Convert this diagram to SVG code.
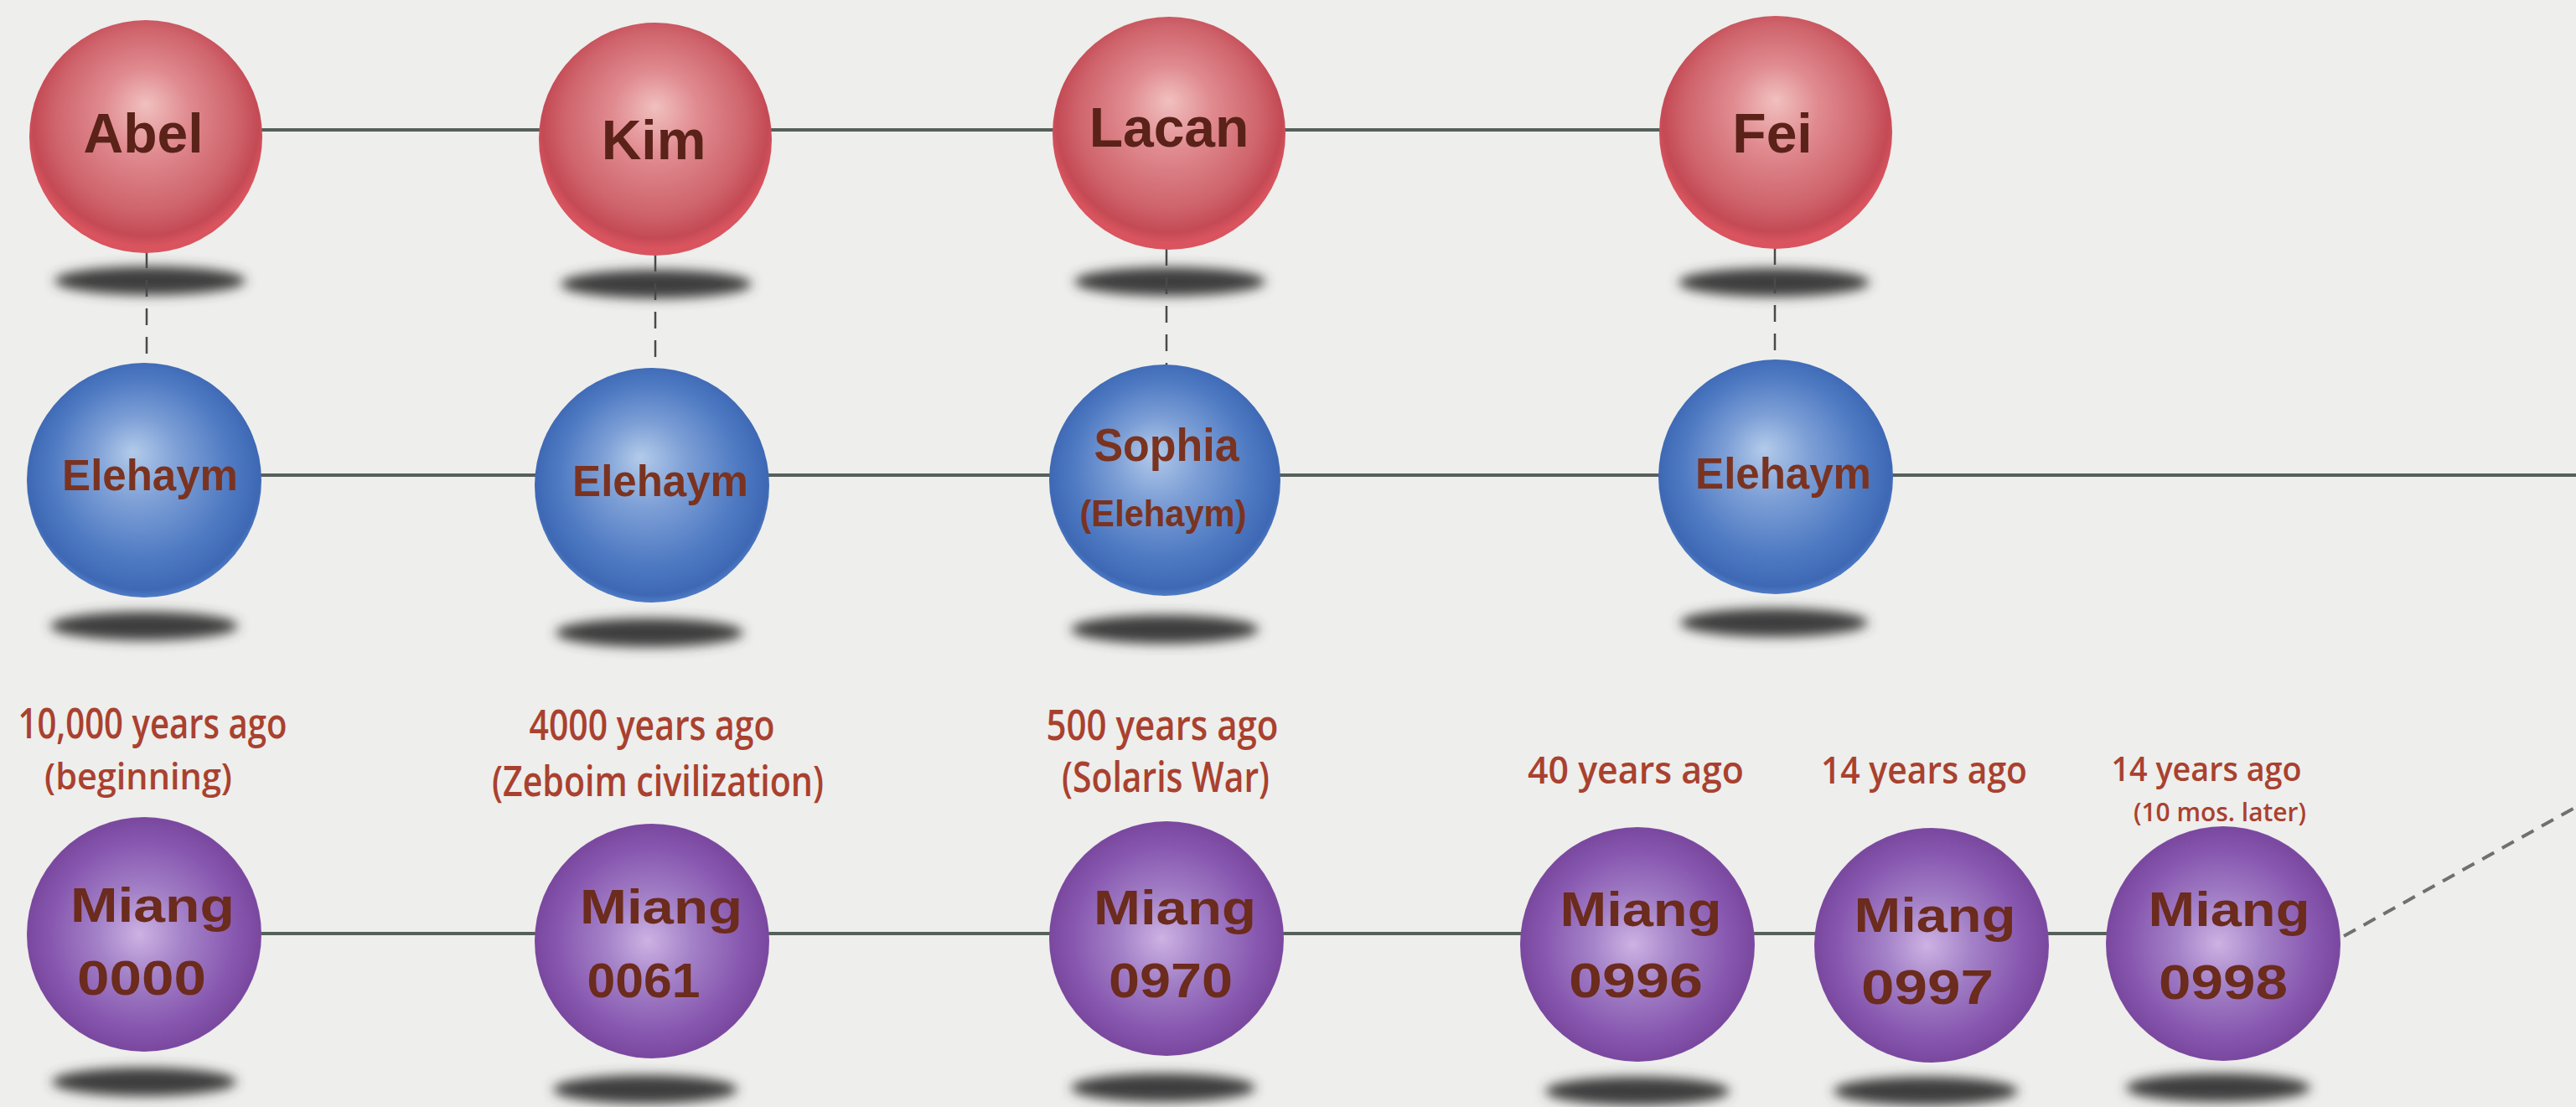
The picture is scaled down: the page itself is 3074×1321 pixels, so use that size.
<svg xmlns="http://www.w3.org/2000/svg" width="3074" height="1321" viewBox="0 0 3074 1321">
<style>
.nm{font-family:"Liberation Sans",Arial,sans-serif;font-weight:bold;text-anchor:middle}
.rt{fill:#5a2219;font-size:66px}
.bt{fill:#7a3320;font-size:51px}
.pt{fill:#6b2b1d;font-size:58px}
.lbl{font-family:"Open Sans","Liberation Sans",Arial,sans-serif;font-weight:600;fill:#a9412f;text-anchor:middle;font-size:50px}
.solid{stroke:#56605b;stroke-width:4;fill:none}
.dash{stroke:#4a4a4a;stroke-width:2.5;stroke-dasharray:20 14;fill:none}
.dash2{stroke:#707070;stroke-width:4;stroke-dasharray:16 11;fill:none}
.sh{fill:#3c3c3c;filter:url(#blur)}
</style>
<defs>
<radialGradient id="gRed" cx="50%" cy="45%" r="52%" fx="50%" fy="36%">
<stop offset="0" stop-color="#f1c0bf"/>
<stop offset="0.35" stop-color="#e08b90"/>
<stop offset="0.75" stop-color="#cf646c"/>
<stop offset="0.93" stop-color="#c44a55"/>
<stop offset="1" stop-color="#d9545e"/>
</radialGradient>
<radialGradient id="gBlue" cx="50%" cy="48%" r="52%" fx="45%" fy="38%">
<stop offset="0" stop-color="#b3cbea"/>
<stop offset="0.35" stop-color="#7d9fd6"/>
<stop offset="0.75" stop-color="#4d79c2"/>
<stop offset="0.95" stop-color="#3e68b4"/>
<stop offset="1" stop-color="#4f7cc6"/>
</radialGradient>
<radialGradient id="gPur" cx="50%" cy="50%" r="52%" fx="48%" fy="50%">
<stop offset="0" stop-color="#cdb2e3"/>
<stop offset="0.35" stop-color="#a482c8"/>
<stop offset="0.75" stop-color="#8858b0"/>
<stop offset="0.95" stop-color="#7a489f"/>
<stop offset="1" stop-color="#9060b8"/>
</radialGradient>
<filter id="blur" x="-30%" y="-100%" width="160%" height="300%">
<feGaussianBlur stdDeviation="7"/>
</filter>
</defs>
<rect x="0" y="0" width="3074" height="1321" fill="#eeeeec"/>

<g id="shadows">
<ellipse class="sh" cx="179" cy="335" rx="114" ry="17"/>
<ellipse class="sh" cx="783" cy="339" rx="114" ry="17"/>
<ellipse class="sh" cx="1396" cy="336" rx="114" ry="17"/>
<ellipse class="sh" cx="2117" cy="337" rx="114" ry="17"/>
<ellipse class="sh" cx="172" cy="747" rx="112" ry="17"/>
<ellipse class="sh" cx="775" cy="755" rx="112" ry="17"/>
<ellipse class="sh" cx="1390" cy="751" rx="112" ry="17"/>
<ellipse class="sh" cx="2117" cy="743" rx="112" ry="17"/>
<ellipse class="sh" cx="172" cy="1291" rx="110" ry="17"/>
<ellipse class="sh" cx="770" cy="1300" rx="110" ry="17"/>
<ellipse class="sh" cx="1388" cy="1298" rx="110" ry="17"/>
<ellipse class="sh" cx="1954" cy="1302" rx="110" ry="17"/>
<ellipse class="sh" cx="2298" cy="1302" rx="110" ry="17"/>
<ellipse class="sh" cx="2647" cy="1298" rx="110" ry="17"/>
</g>

<g id="connectors">
<line class="solid" x1="174" y1="155" x2="2119" y2="155"/>
<line class="solid" x1="172" y1="567" x2="3074" y2="567"/>
<line class="solid" x1="172" y1="1114" x2="2653" y2="1114"/>
<line class="dash" x1="175" y1="300" x2="175" y2="436"/>
<line class="dash" x1="782" y1="304" x2="782" y2="442"/>
<line class="dash" x1="1392" y1="297" x2="1392" y2="437"/>
<line class="dash" x1="2118" y1="296" x2="2118" y2="431"/>
<line class="dash2" x1="2797" y1="1117" x2="3074" y2="963"/>
</g>

<g id="abel"><circle cx="174" cy="163" r="139" fill="url(#gRed)"/><text class="nm rt" x="171" y="182">Abel</text></g>
<g id="kim"><circle cx="782" cy="166" r="139" fill="url(#gRed)"/><text class="nm rt" x="780" y="190">Kim</text></g>
<g id="lacan"><circle cx="1395" cy="159" r="139" fill="url(#gRed)"/><text class="nm rt" x="1395" y="175">Lacan</text></g>
<g id="fei"><circle cx="2119" cy="158" r="139" fill="url(#gRed)"/><text class="nm rt" x="2115" y="182">Fei</text></g>

<g id="elehaym1"><circle cx="172" cy="573" r="140" fill="url(#gBlue)"/><text class="nm bt" x="179" y="585">Elehaym</text></g>
<g id="elehaym2"><circle cx="778" cy="579" r="140" fill="url(#gBlue)"/><text class="nm bt" x="788" y="592">Elehaym</text></g>
<g id="sophia"><circle cx="1390" cy="573" r="138" fill="url(#gBlue)"/><text class="nm bt" x="1392" y="550" style="font-size:56px" textLength="173" lengthAdjust="spacingAndGlyphs">Sophia</text><text class="nm bt" x="1388" y="628" style="font-size:44px" textLength="199" lengthAdjust="spacingAndGlyphs">(Elehaym)</text></g>
<g id="elehaym4"><circle cx="2119" cy="569" r="140" fill="url(#gBlue)"/><text class="nm bt" x="2128" y="583">Elehaym</text></g>

<g id="miang0000"><circle cx="172" cy="1115" r="140" fill="url(#gPur)"/><text class="nm pt" x="182" y="1100" textLength="196" lengthAdjust="spacingAndGlyphs">Miang</text><text class="nm pt" x="169" y="1187" textLength="154" lengthAdjust="spacingAndGlyphs">0000</text></g>
<g id="miang0061"><circle cx="778" cy="1123" r="140" fill="url(#gPur)"/><text class="nm pt" x="789" y="1102" textLength="194" lengthAdjust="spacingAndGlyphs">Miang</text><text class="nm pt" x="768" y="1190" textLength="135" lengthAdjust="spacingAndGlyphs">0061</text></g>
<g id="miang0970"><circle cx="1392" cy="1120" r="140" fill="url(#gPur)"/><text class="nm pt" x="1402" y="1103" textLength="194" lengthAdjust="spacingAndGlyphs">Miang</text><text class="nm pt" x="1397" y="1190" textLength="148" lengthAdjust="spacingAndGlyphs">0970</text></g>
<g id="miang0996"><circle cx="1954" cy="1127" r="140" fill="url(#gPur)"/><text class="nm pt" x="1958" y="1105" textLength="193" lengthAdjust="spacingAndGlyphs">Miang</text><text class="nm pt" x="1952" y="1190" textLength="160" lengthAdjust="spacingAndGlyphs">0996</text></g>
<g id="miang0997"><circle cx="2305" cy="1128" r="140" fill="url(#gPur)"/><text class="nm pt" x="2309" y="1112" textLength="193" lengthAdjust="spacingAndGlyphs">Miang</text><text class="nm pt" x="2300" y="1198" textLength="158" lengthAdjust="spacingAndGlyphs">0997</text></g>
<g id="miang0998"><circle cx="2653" cy="1126" r="140" fill="url(#gPur)"/><text class="nm pt" x="2660" y="1105" textLength="193" lengthAdjust="spacingAndGlyphs">Miang</text><text class="nm pt" x="2653" y="1192" textLength="154" lengthAdjust="spacingAndGlyphs">0998</text></g>

<g id="labels">
<text class="lbl" x="182" y="881" textLength="321" lengthAdjust="spacingAndGlyphs">10,000 years ago</text>
<text class="lbl" x="165" y="942" style="font-size:44px" textLength="224" lengthAdjust="spacingAndGlyphs">(beginning)</text>
<text class="lbl" x="778" y="883" textLength="293" lengthAdjust="spacingAndGlyphs">4000 years ago</text>
<text class="lbl" x="785" y="950" textLength="396" lengthAdjust="spacingAndGlyphs">(Zeboim civilization)</text>
<text class="lbl" x="1387" y="883" textLength="277" lengthAdjust="spacingAndGlyphs">500 years ago</text>
<text class="lbl" x="1391" y="945" textLength="248" lengthAdjust="spacingAndGlyphs">(Solaris War)</text>
<text class="lbl" x="1952" y="935" style="font-size:46px" textLength="258" lengthAdjust="spacingAndGlyphs">40 years ago</text>
<text class="lbl" x="2296" y="935" style="font-size:46px" textLength="246" lengthAdjust="spacingAndGlyphs">14 years ago</text>
<text class="lbl" x="2633" y="932" style="font-size:40px" textLength="227" lengthAdjust="spacingAndGlyphs">14 years ago</text>
<text class="lbl" x="2649" y="980" style="font-size:30px" textLength="206" lengthAdjust="spacingAndGlyphs">(10 mos. later)</text>
</g>
</svg>
